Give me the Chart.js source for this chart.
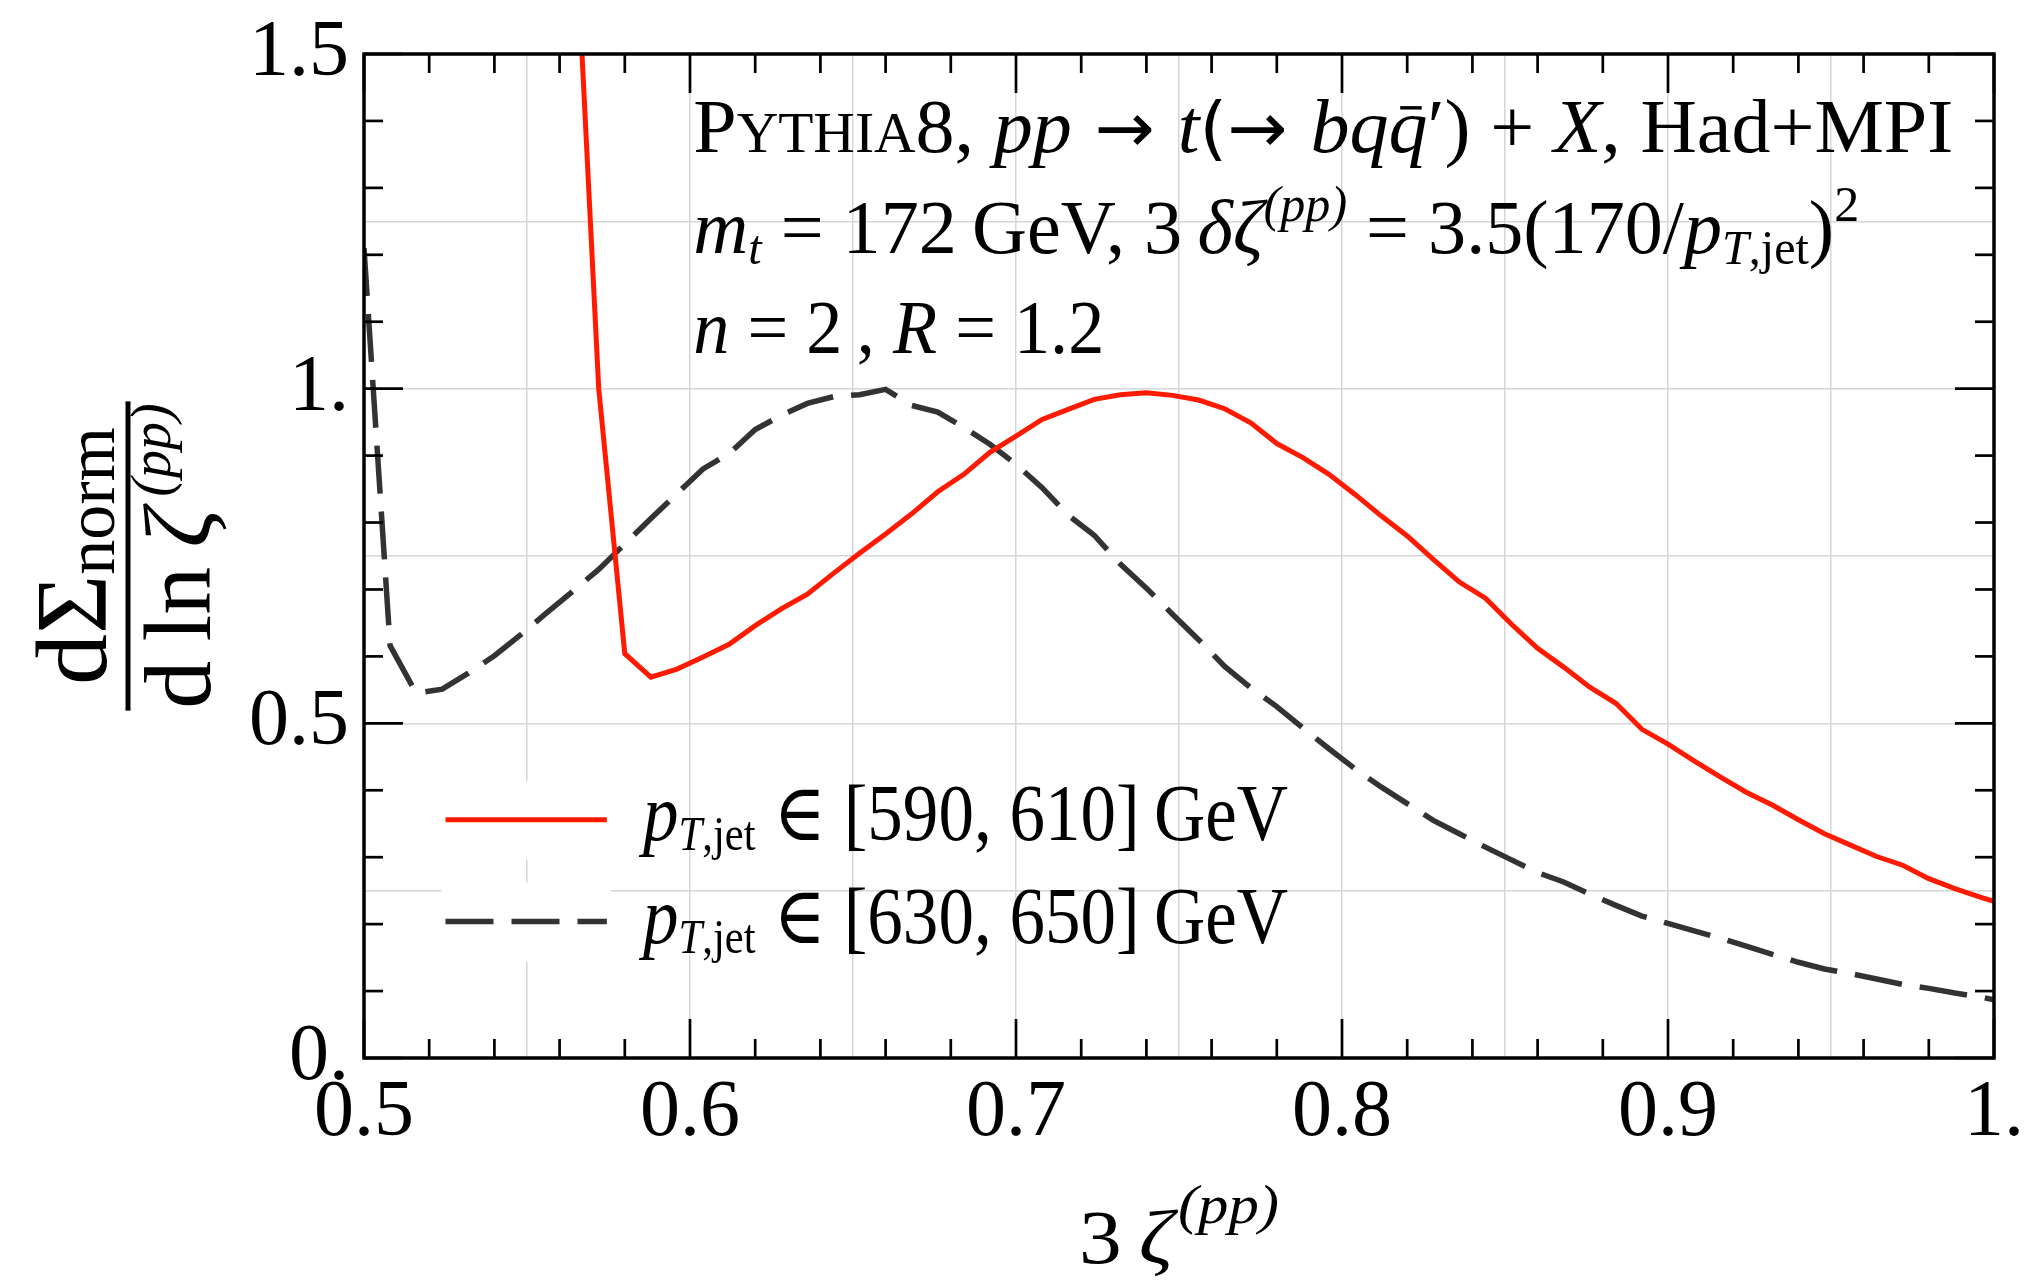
<!DOCTYPE html>
<html>
<head>
<meta charset="utf-8">
<script src="https://cdn.jsdelivr.net/npm/chart.js@4.4.1/dist/chart.umd.min.js"></script>
<style>
    html, body { margin: 0; padding: 0; background: #fff; }
    #wrap { width: 2024px; height: 1280px; }
</style>
</head>
<body>
<div id="wrap"><canvas id="zetaCanvas"></canvas></div>
<script>
// values
var zetaRed = [0.564, 0.572, 0.580, 0.588, 0.596, 0.604, 0.612, 0.620, 0.628, 0.636,
    0.644, 0.652, 0.660, 0.668, 0.676, 0.684, 0.692, 0.700, 0.708, 0.716,
    0.724, 0.732, 0.740, 0.748, 0.756, 0.764, 0.772, 0.780, 0.788, 0.796,
    0.804, 0.812, 0.820, 0.828, 0.836, 0.844, 0.852, 0.860, 0.868, 0.876,
    0.884, 0.892, 0.900, 0.908, 0.916, 0.924, 0.932, 0.940, 0.948, 0.956,
    0.964, 0.972, 0.980, 0.988, 0.996, 1.000];
var sigmaRed = [1.78, 1.000, 0.604, 0.569, 0.581, 0.599, 0.618, 0.646, 0.671, 0.693,
    0.724, 0.754, 0.783, 0.813, 0.846, 0.872, 0.905, 0.929, 0.954, 0.969,
    0.984, 0.991, 0.994, 0.990, 0.983, 0.970, 0.949, 0.918, 0.897, 0.872,
    0.842, 0.810, 0.780, 0.745, 0.711, 0.687, 0.648, 0.612, 0.584, 0.554,
    0.530, 0.491, 0.469, 0.444, 0.420, 0.397, 0.378, 0.356, 0.335, 0.318,
    0.301, 0.288, 0.268, 0.253, 0.240, 0.234];

var zetaBlack = [0.500, 0.508, 0.516, 0.524, 0.532, 0.540, 0.548, 0.556, 0.564, 0.572,
    0.580, 0.588, 0.596, 0.604, 0.612, 0.620, 0.628, 0.636, 0.644, 0.652,
    0.660, 0.668, 0.676, 0.684, 0.692, 0.700, 0.708, 0.716, 0.724, 0.732,
    0.740, 0.748, 0.756, 0.764, 0.772, 0.780, 0.788, 0.796, 0.804, 0.812,
    0.820, 0.828, 0.836, 0.844, 0.852, 0.860, 0.868, 0.876, 0.884, 0.892,
    0.900, 0.908, 0.916, 0.924, 0.932, 0.940, 0.948, 0.956, 0.964, 0.972,
    0.980, 0.988, 0.996, 1.000];
var sigmaBlack = [1.21, 0.616, 0.545, 0.551, 0.575, 0.601, 0.632, 0.665, 0.697, 0.730,
    0.768, 0.806, 0.843, 0.880, 0.903, 0.939, 0.960, 0.978, 0.988, 0.991,
    0.999, 0.975, 0.965, 0.942, 0.917, 0.887, 0.852, 0.811, 0.781, 0.738,
    0.702, 0.663, 0.625, 0.585, 0.553, 0.525, 0.493, 0.462, 0.432, 0.405,
    0.380, 0.355, 0.335, 0.315, 0.296, 0.277, 0.263, 0.245, 0.228, 0.212,
    0.201, 0.190, 0.179, 0.167, 0.155, 0.143, 0.133, 0.126, 0.118, 0.110,
    0.104, 0.097, 0.091, 0.087];

var ptRanges = ["[590, 610]", "[630, 650]"];

var xTickValues = [0.5, 0.6, 0.7, 0.8, 0.9, 1.0];
var xTickLabels = ["0.5", "0.6", "0.7", "0.8", "0.9", "1."];
var yTickValues = [0, 0.5, 1.0, 1.5];
var yTickLabels = ["0.", "0.5", "1.", "1.5"];

var SERIF = '"Liberation Serif", "DejaVu Serif", serif';
var ARROW = '"DejaVu Sans", sans-serif';

function pairUp(xs, ys) {
    return xs.map(function (x, i) { return { x: x, y: ys[i] }; });
}

function labelFor(values, labels, v) {
    for (var i = 0; i < values.length; i++) {
        if (Math.abs(values[i] - v) < 1e-6) return labels[i];
    }
    return "";
}

// a run of text: size in px, italic flag, baseline shift, optional macron and family
function R(t, size, it, dy, bar, fam) {
    return { t: t, size: size, it: !!it, dy: dy || 0, bar: !!bar, fam: fam || SERIF };
}

function runFont(r) {
    return (r.it ? "italic " : "") + r.size + "px " + r.fam;
}

function measureRuns(ctx, runs) {
    var w = 0;
    runs.forEach(function (r) {
        ctx.font = runFont(r);
        w += ctx.measureText(r.t).width;
    });
    return w;
}

// draws runs left to right from (x, y) on the baseline, squeezed to width if given
function drawRuns(ctx, runs, x, y, width) {
    var natural = measureRuns(ctx, runs);
    var sx = width ? width / natural : 1;
    ctx.save();
    ctx.translate(x, y);
    ctx.scale(sx, 1);
    ctx.textAlign = "left";
    ctx.textBaseline = "alphabetic";
    var cx = 0;
    runs.forEach(function (r) {
        ctx.font = runFont(r);
        var w = ctx.measureText(r.t).width;
        ctx.fillText(r.t, cx, r.dy);
        if (r.bar) {
            ctx.fillRect(cx + w * 0.3, r.dy - r.size * 0.6, w * 0.55, r.size * 0.045);
        }
        cx += w;
    });
    ctx.restore();
    return natural * sx;
}

function strokeLine(ctx, x1, y1, x2, y2) {
    ctx.beginPath();
    ctx.moveTo(x1, y1);
    ctx.lineTo(x2, y2);
    ctx.stroke();
}

// frame with inward ticks on all four sides, plus the legend
var framePlugin = {
    id: "frameTicks",
    afterDatasetsDraw: function (chart) {
        var ctx = chart.ctx;
        var a = chart.chartArea;
        var xs = chart.scales.x;
        var ys = chart.scales.y;
        var i, v, px, len;

        // legend
        ctx.save();
        var rows = [0.356, 0.204];
        var textRows = [0.3263, 0.1714];
        var x1 = xs.getPixelForValue(0.5250);
        var x2 = xs.getPixelForValue(0.5745);
        chart.data.datasets.forEach(function (ds, k) {
            var py = ys.getPixelForValue(rows[k]);
            ctx.fillStyle = "#fff";
            ctx.fillRect(x1 - 4, py - 39, x2 - x1 + 8, 79);
            ctx.strokeStyle = ds.borderColor;
            ctx.lineWidth = ds.borderWidth;
            ctx.setLineDash(ds.borderDash || []);
            strokeLine(ctx, x1, py, x2, py);
            ctx.setLineDash([]);
            ctx.fillStyle = "#000";
            drawRuns(ctx, [R("p", 80, true), R("T", 48, true, 10), R(",jet", 48, false, 10),
                R(" \u2208 " + ptRanges[k] + "\u2009GeV", 80)],
                xs.getPixelForValue(0.5856), ys.getPixelForValue(textRows[k]), 645);
        });
        ctx.restore();

        ctx.save();
        ctx.strokeStyle = "#000";
        ctx.lineWidth = 2.7;
        for (i = 0; i <= 25; i++) {
            v = 0.5 + i * 0.02;
            px = xs.getPixelForValue(v);
            len = (i % 5 === 0) ? 39 : 19;
            strokeLine(ctx, px, a.bottom, px, a.bottom - len);
            strokeLine(ctx, px, a.top, px, a.top + len);
        }
        for (i = 0; i <= 15; i++) {
            v = i * 0.1;
            px = ys.getPixelForValue(v);
            len = (i % 5 === 0) ? 39 : 19;
            strokeLine(ctx, a.left, px, a.left + len, px);
            strokeLine(ctx, a.right, px, a.right - len, px);
        }
        ctx.lineWidth = 3.5;
        ctx.strokeRect(a.left, a.top, a.right - a.left, a.bottom - a.top);
        ctx.restore();
    },
    afterDraw: function (chart) {
        var ctx = chart.ctx;
        var a = chart.chartArea;
        var xs = chart.scales.x;
        var ys = chart.scales.y;
        ctx.save();
        ctx.fillStyle = "#000";

        // annotation block
        var left = xs.getPixelForValue(0.601);
        drawRuns(ctx, [R("P", 76), R("YTHIA", 56), R("8, ", 76), R("pp", 76, true),
            R(" \u2192 ", 70, false, 0, false, ARROW), R("t", 76, true),
            R("(\u2192 ", 70, false, 0, false, ARROW), R("bq", 76, true),
            R("q", 76, true, 0, true), R("\u2032", 76), R(") + ", 76), R("X", 76, true),
            R(", Had+MPI", 76)], left, ys.getPixelForValue(1.354), 1260);
        drawRuns(ctx, [R("m", 76, true), R("t", 48, true, 11), R(" = 172\u2009GeV, 3\u2009", 76),
            R("\u03b4\u03b6", 76, true), R("(pp)", 50, true, -32), R(" = 3.5(170/", 76),
            R("p", 76, true), R("T", 48, true, 11), R(",jet", 48, false, 11), R(")", 76),
            R("2", 50, false, -32)], left, ys.getPixelForValue(1.203), 1166);
        drawRuns(ctx, [R("n", 76, true), R(" = 2\u2009, ", 76), R("R", 76, true), R(" = 1.2", 76)],
            left, ys.getPixelForValue(1.054), 411);

        // x title
        var cxT = (a.left + a.right) / 2;
        drawRuns(ctx, [R("3\u2009", 76), R("\u03b6", 76, true), R("\u2009", 20), R("(pp)", 54, true, -40)],
            cxT - 100, a.bottom + 205, 200);

        // y title, a rotated fraction
        var cy = (a.top + a.bottom) / 2;
        ctx.translate(128, cy);
        ctx.rotate(-Math.PI / 2);
        var num = [R("d\u03a3", 102), R("norm", 70, false, 8)];
        var nw = measureRuns(ctx, num);
        drawRuns(ctx, num, -nw / 2, -22);
        var den = [R("d\u2009ln\u2009", 96), R("\u03b6", 96, true), R("\u2009", 60),
            R("(pp)", 56, true, -40)];
        var dw = measureRuns(ctx, den);
        drawRuns(ctx, den, -dw / 2, 82);
        var bw = Math.max(dw, nw) + 4;
        ctx.fillRect(-bw / 2, -2.5, bw, 5);
        ctx.restore();
    }
};

var ctx = document.getElementById("zetaCanvas").getContext("2d");

var gridStyle = { color: "#d6d6d6", lineWidth: 1.5, drawTicks: false };

var zetaChart = new Chart(ctx, {
    type: "line",
    data: {
        datasets: [
            {
                label: ptRanges[0],
                data: pairUp(zetaRed, sigmaRed),
                borderColor: "#ff1a00",
                borderWidth: 5,
                pointRadius: 0,
                tension: 0,
                fill: false
            },
            {
                label: ptRanges[1],
                data: pairUp(zetaBlack, sigmaBlack),
                borderColor: "#333333",
                borderWidth: 5.5,
                borderDash: [48, 18],
                pointRadius: 0,
                tension: 0,
                fill: false
            }
        ]
    },
    options: {
        responsive: true,
        maintainAspectRatio: false,
        animation: false,
        layout: { padding: { top: 54, right: 30, bottom: 0, left: 0 } },
        plugins: {
            legend: { display: false },
            tooltip: { enabled: false }
        },
        scales: {
            x: {
                type: "linear",
                min: 0.5,
                max: 1.0,
                afterFit: function (s) { s.height = 222; },
                ticks: {
                    stepSize: 0.05,
                    autoSkip: false,
                    maxRotation: 0,
                    padding: 0,
                    color: "#000",
                    font: { family: SERIF, size: 80, lineHeight: 1.4 },
                    callback: function (v) { return labelFor(xTickValues, xTickLabels, v); }
                },
                grid: gridStyle,
                border: { display: false }
            },
            y: {
                type: "linear",
                min: 0,
                max: 1.5,
                afterFit: function (s) { s.width = 364; },
                ticks: {
                    stepSize: 0.25,
                    autoSkip: false,
                    padding: 15,
                    color: "#000",
                    font: { family: SERIF, size: 80, lineHeight: 0.9 },
                    callback: function (v) { return labelFor(yTickValues, yTickLabels, v); }
                },
                grid: gridStyle,
                border: { display: false }
            }
        }
    },
    plugins: [framePlugin]
});
</script>
</body>
</html>
